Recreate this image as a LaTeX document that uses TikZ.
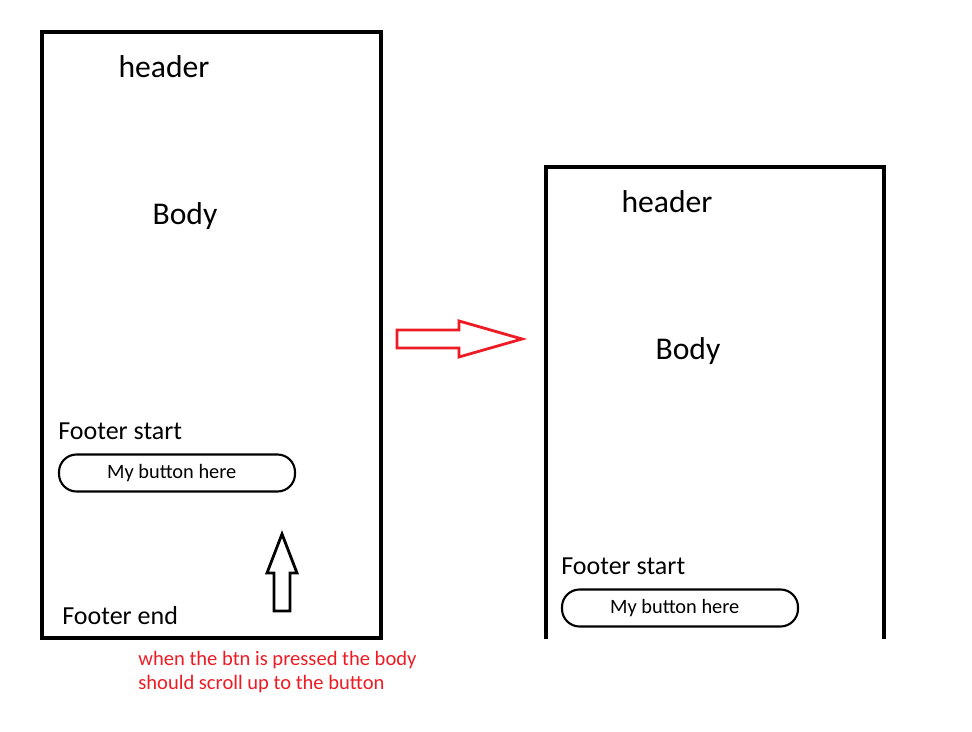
\documentclass[tikz,border=0pt]{standalone}
\usepackage{fontspec}
\setmainfont{Carlito}
\usepackage{xcolor}
\usepackage{tikz}
\usetikzlibrary{positioning}
\definecolor{paintred}{RGB}{237,28,36}

\tikzset{
  screen/.style={line width=2.3pt, line cap=rect},
  bigtext/.style={font=\fontsize{18}{20}\selectfont, inner sep=0pt},
  foottext/.style={font=\fontsize{14.8}{17}\selectfont, inner sep=0pt, anchor=west},
  btn/.style={draw, line width=1.2pt, rounded corners=10pt, minimum width=236*0.02cm,
    minimum height=37*0.02cm, inner sep=0pt, font=\fontsize{11.6}{13}\selectfont},
  blockarrow/.style={line width=1.6pt, line join=miter}
}

\begin{document}
\begin{tikzpicture}[x=0.02cm, y=-0.02cm]
  \useasboundingbox (0,0) rectangle (972,732);

  % left screen, full height
  \draw[screen] (42,32) rectangle (381,638);
  \node[bigtext] (lheader) at (164,67) {header};
  \node[bigtext] (lbody) at (185,216) {Body};
  \node[foottext] (lfstart) at (58,431) {Footer start};
  \node[btn] (lbtn) at (177,473) {\hspace*{-6pt}\raisebox{-1.5pt}{My button here}};
  \node[foottext] (lfend) at (62,616) {Footer end};

  % scroll arrow
  \draw[blockarrow] (274,611) -- (274,573) -- (267,573) -- (282,534)
    -- (297,573) -- (290,573) -- (290,611) -- cycle;

  \node[font=\fontsize{11.7}{13.6}\selectfont, text=paintred, align=left,
    anchor=west, inner sep=0pt] (note) at (138,672)
    {when the btn is pressed the body\\should scroll up to the button};

  % transition arrow
  \draw[blockarrow, draw=paintred] (397,330) -- (459,330) -- (459,321) -- (522,339)
    -- (459,357) -- (459,348) -- (397,348) -- cycle;

  % right screen, cut at the bottom
  \draw[screen, line cap=butt] (546,639) -- (546,167) -- (884,167) -- (884,639);
  \node[bigtext] (rheader) at (667,202) {header};
  \node[bigtext] (rbody) at (688,351) {Body};
  \node[foottext] (rfstart) at (561,566) {Footer start};
  \node[btn] (rbtn) at (680,608) {\hspace*{-6pt}\raisebox{-1.5pt}{My button here}};
\end{tikzpicture}
\end{document}
